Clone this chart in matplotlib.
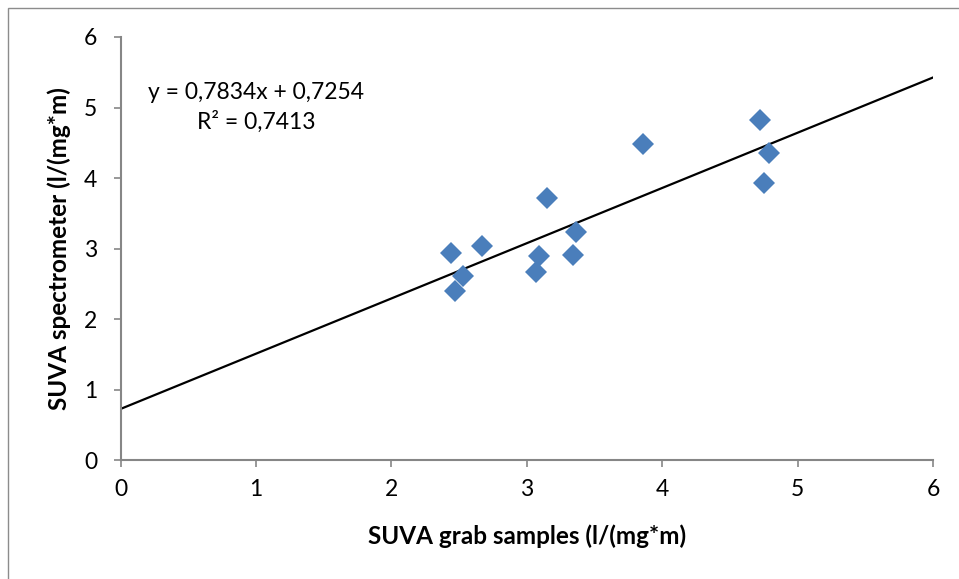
import matplotlib.pyplot as plt
from matplotlib.patches import Rectangle

plt.rcParams['font.family'] = ['Lato', 'DejaVu Sans']

# SUVA values
suva_grab = [2.44, 2.47, 2.53, 2.67, 3.07, 3.09, 3.15, 3.34, 3.36, 3.86, 4.72, 4.79, 4.75]
suva_spectro = [2.94, 2.40, 2.61, 3.04, 2.67, 2.89, 3.72, 2.91, 3.23, 4.48, 4.82, 4.35, 3.93]

# linear trendline as printed on the chart
slope = 0.7834
intercept = 0.7254
r2 = 0.7413
ticks = [0, 1, 2, 3, 4, 5, 6]

fig = plt.figure(figsize=(9.59, 5.79), dpi=100)
fig.patches.append(Rectangle((8 / 959, -0.1), 1.2, 1 - 8 / 579 + 0.1,
                             transform=fig.transFigure, fill=False,
                             edgecolor='#8c8c8c', lw=1.0))
ax = fig.add_axes([0.1259, 0.2055, 0.8470, 0.7306])

ax.plot(suva_grab, suva_spectro, 'D', color='#4a7ebb', ms=11,
        markeredgewidth=0, zorder=3)
x_line = [ticks[0], ticks[-1]]
y_line = [slope * v + intercept for v in x_line]
ax.plot(x_line, y_line, color='black', lw=1.6, zorder=2)

ax.set_xlim(0, 6)
ax.set_ylim(0, 6)
ax.set_xticks(ticks)
ax.set_yticks(ticks)
ax.tick_params(direction='out', length=5, width=1.2, color='#868686',
               labelsize=16.5)
ax.tick_params(axis='y', pad=12)
ax.tick_params(axis='x', pad=9)
for side in ['top', 'right']:
    ax.spines[side].set_visible(False)
for side in ['left', 'bottom']:
    ax.spines[side].set_color('#868686')
    ax.spines[side].set_linewidth(1.5)

eq = ('y = %.4fx + %.4f' % (slope, intercept)).replace('.', ',')
rr = ('R² = %.4f' % r2).replace('.', ',')
ax.text(1.0, 5.0, eq + '\n' + rr, ha='center', va='center',
        fontsize=16.5, linespacing=1.4)

ax.set_xlabel('SUVA grab samples (l/(mg*m)', fontsize=17.5, fontweight='bold',
              labelpad=17)
ax.set_ylabel('SUVA spectrometer (l/(mg*m)', fontsize=17.5, fontweight='bold',
              labelpad=9)

fig.savefig('out.png', dpi=100)
